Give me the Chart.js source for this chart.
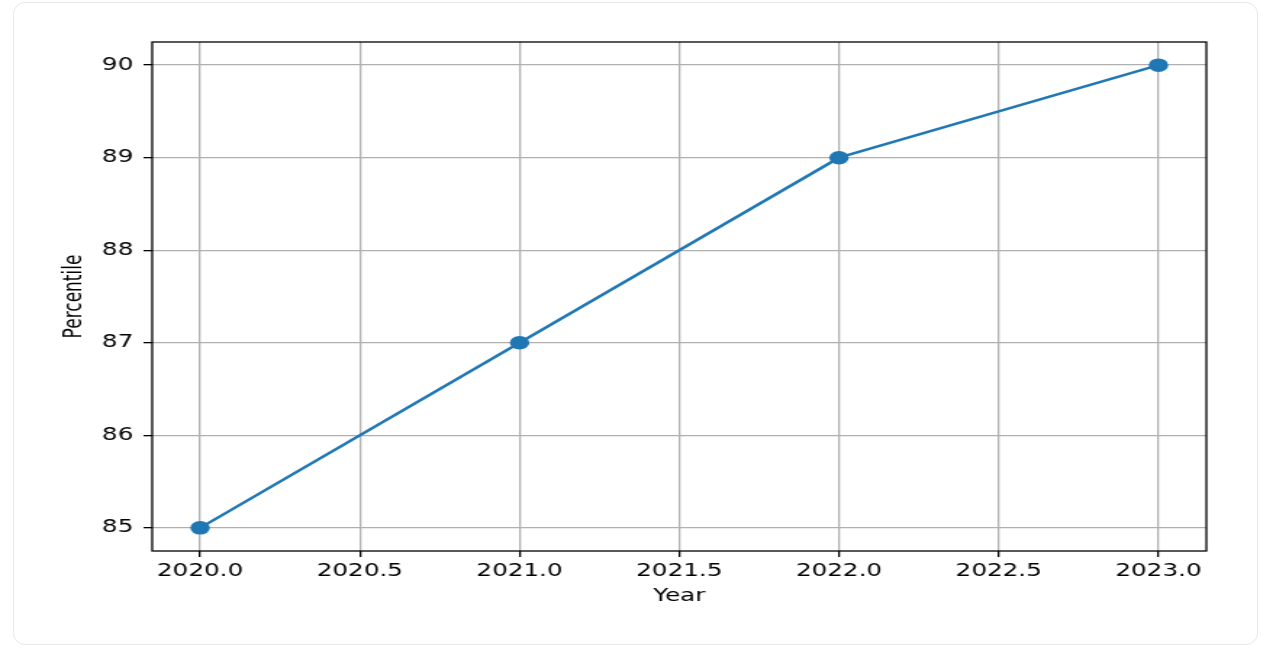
<!DOCTYPE html>
<html lang="en">
<head>
    <meta charset="UTF-8">
    <title>Percentile by Year</title>
    <script src="https://cdn.jsdelivr.net/npm/chart.js"></script>
    <style>
        body { margin: 0; background: #fff; }
        #card {
            position: absolute; left: 13px; top: 2px;
            width: 1243px; height: 641px;
            border: 1px solid #e8e8e8; border-radius: 12px;
        }
        #wrap {
            position: absolute; left: 13px; top: 2px;
            width: 859px; height: 643px;
            transform: scaleX(1.45); transform-origin: left top;
        }
    </style>
</head>
<body>
    <div id="card"></div>
    <div id="wrap"><canvas id="Chart" width="859" height="643"></canvas></div>

    <script>
        // data
        const years = [2020, 2021, 2022, 2023];
        const percentiles = [85, 87, 89, 90];
        const xTickValues = [2020.0, 2020.5, 2021.0, 2021.5, 2022.0, 2022.5, 2023.0];
        const yTickValues = [85, 86, 87, 88, 89, 90];

        const tickFont = { family: 'DejaVu Sans', size: 17 };

        // black frame round the plot, like the matplotlib spines
        const frame = {
            id: 'frame',
            afterDraw(chart) {
                const a = chart.chartArea, ctx = chart.ctx;
                ctx.save();
                ctx.strokeStyle = '#000';
                ctx.lineWidth = 1.3;
                ctx.strokeRect(a.left, a.top, a.right - a.left, a.bottom - a.top);
                ctx.restore();
            }
        };

        const ctx = document.getElementById('Chart').getContext('2d');
        new Chart(ctx, {
            type: 'line',
            data: {
                datasets: [{
                    data: years.map((y, i) => ({ x: y, y: percentiles[i] })),
                    borderColor: '#1f77b4',
                    backgroundColor: '#1f77b4',
                    borderWidth: 2.5,
                    pointRadius: 5.5,
                    pointHoverRadius: 5.5,
                    fill: false,
                    tension: 0
                }]
            },
            options: {
                responsive: false,
                animation: false,
                layout: { padding: { left: 28, right: 36, top: 40, bottom: 34 } },
                plugins: { legend: { display: false }, tooltip: { enabled: false } },
                scales: {
                    x: {
                        type: 'linear',
                        min: 2019.85,
                        max: 2023.15,
                        afterBuildTicks: s => { s.ticks = xTickValues.map(v => ({ value: v })); },
                        afterFit: s => { s.height = 60; },
                        grid: { color: '#b0b0b0', lineWidth: 1.3, tickLength: 6, tickColor: '#000' },
                        border: { display: false },
                        ticks: { font: tickFont, color: '#000', padding: 4, maxRotation: 0,
                                 callback: v => v.toFixed(1) },
                        title: { display: true, text: 'Year', font: tickFont, color: '#000',
                                 padding: { top: 4, bottom: 4 } }
                    },
                    y: {
                        min: 84.75,
                        max: 90.25,
                        afterBuildTicks: s => { s.ticks = yTickValues.map(v => ({ value: v })); },
                        afterFit: s => { s.width = 68; },
                        grid: { color: '#b0b0b0', lineWidth: 1.3, tickLength: 6, tickColor: '#000' },
                        border: { display: false },
                        ticks: { font: tickFont, color: '#000', padding: 7,
                                 callback: v => String(v) },
                        title: { display: true, text: 'Percentile', font: tickFont, color: '#000',
                                 padding: { top: 4, bottom: 4 } }
                    }
                }
            },
            plugins: [frame]
        });
    </script>
</body>
</html>
